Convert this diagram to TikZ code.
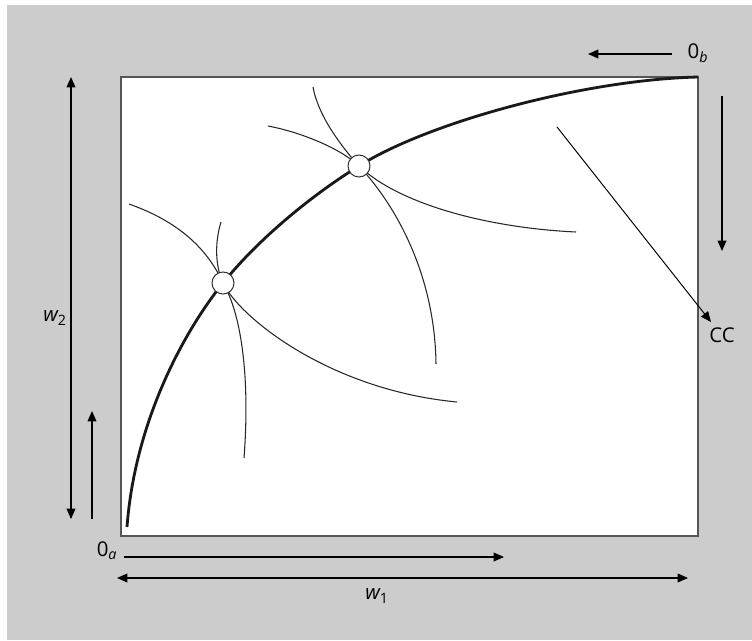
\documentclass[tikz,border=0pt]{standalone}
\usepackage{fontspec}
\setmainfont{Open Sans}
\usepackage{xcolor}
\usetikzlibrary{arrows.meta,positioning}
\definecolor{fondo}{HTML}{CCCCCC}
\definecolor{borde}{HTML}{555555}
\tikzset{
  caja/.style={fill=white,draw=borde,line width=1pt},
  contrato/.style={line width=2pt,black!90},
  indif/.style={line width=0.75pt,black!85},
  eq/.style={circle,draw=black!80,fill=white,line width=0.75pt,minimum size=5.5mm,inner sep=0pt},
  flecha/.style={-{Triangle[length=2.6mm,width=2.2mm]},line width=0.85pt},
  dflecha/.style={{Triangle[length=2.6mm,width=2.2mm]}-{Triangle[length=2.6mm,width=2.2mm]},line width=0.85pt},
  etiq/.style={font=\fontsize{14.5}{17}\selectfont,inner sep=1pt}
}

\begin{document}
\begin{tikzpicture}[x=0.025cm,y=-0.025cm]
\useasboundingbox (0,0) rectangle (752,640);
\fill[fondo] (7,5) rectangle (752,640);
\draw[caja] (121,77) rectangle (698,536);
\coordinate (pA) at (223,283);
\coordinate (pB) at (359,166);
% curvas de indiferencia
\draw[indif] (129,204) .. controls (180,222) and (208,250) .. (pA)
  .. controls (240,318) and (330,390) .. (457,402);
\draw[indif] (221,222) .. controls (214,245) and (216,268) .. (pA)
  .. controls (242,315) and (250,380) .. (244,458);
\draw[indif] (268,126) .. controls (300,132) and (340,148) .. (pB)
  .. controls (400,205) and (490,228) .. (576,232);
\draw[indif] (313,87) .. controls (318,115) and (340,145) .. (pB)
  .. controls (400,210) and (435,280) .. (436,364);
% curva de contrato
\draw[contrato] (127,527) .. controls (135,420) and (185,330) .. (pA)
  .. controls (260,237) and (315,193) .. (pB)
  .. controls (425,124) and (580,80) .. (698,77);
\node[eq] (eqA) at (pA) {};
\node[eq] (eqB) at (pB) {};
% ejes y flechas
\coordinate (w2arr) at (71,77);
\coordinate (w2abj) at (71,519);
\draw[dflecha] (w2arr) -- (w2abj);
\node[etiq] (w2) at (55,318) {\itshape w\upshape\textsubscript{2}};
\coordinate (subeA) at (92,519);
\coordinate (subeB) at (92,411);
\draw[flecha] (subeA) -- (subeB);
\node[etiq] (oa) at (107,551) {0\textsubscript{\itshape a}};
\coordinate (dchaA) at (124,557);
\coordinate (dchaB) at (504,557);
\draw[flecha] (dchaA) -- (dchaB);
\coordinate (w1izq) at (117,578);
\coordinate (w1dch) at (688,578);
\draw[dflecha] (w1izq) -- (w1dch);
\node[etiq] (w1) at (377,596) {\itshape w\upshape\textsubscript{1}};
\node[etiq] (ob) at (698,53) {0\textsubscript{\itshape b}};
\coordinate (izqA) at (672,54);
\coordinate (izqB) at (588,54);
\draw[flecha] (izqA) -- (izqB);
\coordinate (bajaA) at (722,96);
\coordinate (bajaB) at (722,251);
\draw[flecha] (bajaA) -- (bajaB);
\coordinate (ccini) at (557,127);
\node[etiq] (cc) at (722,335) {CC};
\draw[flecha,line width=0.7pt] (ccini) -- (711,322);
\end{tikzpicture}
\end{document}
